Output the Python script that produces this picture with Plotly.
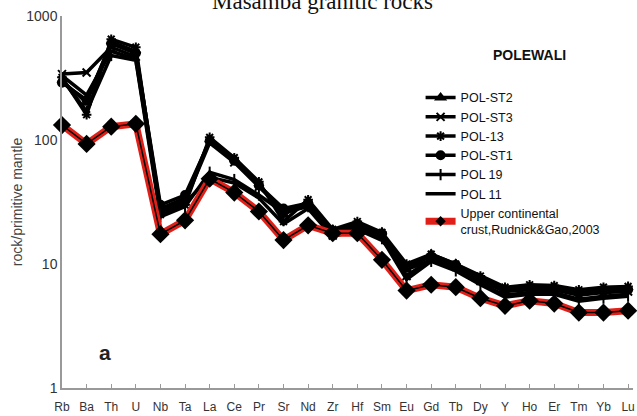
import plotly.graph_objects as go

elements = ["Rb", "Ba", "Th", "U", "Nb", "Ta", "La", "Ce", "Pr", "Sr", "Nd", "Zr",
            "Hf", "Sm", "Eu", "Gd", "Tb", "Dy", "Y", "Ho", "Er", "Tm", "Yb", "Lu"]

pol_st2 = [300, 200, 620, 520, 28, 34, 100, 70, 44, 25, 32, 18, 21, 18, 9, 12, 10, 7.8, 6.3, 6.6, 6.5, 6.0, 6.3, 6.4]
pol_st3 = [340, 350, 560, 470, 27, 32, 95, 66, 42, 27, 30, 17, 20, 17, 8, 11, 9.5, 7.3, 6.0, 6.2, 6.2, 5.6, 5.9, 6.0]
pol_13 = [320, 160, 650, 560, 25, 30, 105, 72, 46, 22, 33, 19, 22, 18, 10, 12, 10, 8, 6.5, 6.8, 6.7, 6.2, 6.5, 6.6]
pol_st1 = [290, 210, 600, 500, 30, 36, 98, 68, 43, 28, 31, 18, 21, 17.5, 9.5, 11.5, 9.8, 7.6, 6.1, 6.4, 6.3, 5.8, 6.0, 6.2]
pol_19 = [310, 170, 480, 440, 24, 29, 55, 48, 36, 26, 29, 17, 20, 16, 7.5, 10.5, 8.8, 6.8, 5.4, 5.7, 5.7, 5.0, 5.3, 5.5]
pol_11 = [330, 230, 520, 450, 26, 31, 50, 45, 34, 21, 28, 16.5, 19, 15.5, 9, 10.8, 9, 7, 5.6, 5.9, 5.9, 5.2, 5.5, 5.7]
ucc = [132, 93, 128, 135, 17.4, 22.5, 48.7, 37.7, 26.5, 15.6, 20.5, 17.7, 17.7, 10.8, 6.1, 6.8, 6.5, 5.3, 4.6, 5.06, 4.8, 4.06, 4.06, 4.2]

series = [
    ("POL-ST2", pol_st2, "triangle-up"),
    ("POL-ST3", pol_st3, "x-thin"),
    ("POL-13", pol_13, "asterisk"),
    ("POL-ST1", pol_st1, "circle"),
    ("POL 19", pol_19, "line-ns"),
    ("POL 11", pol_11, None),
]

xs = list(range(len(elements)))
fig = go.Figure()
for name, vals, sym in series:
    if sym:
        fig.add_trace(go.Scatter(
            x=xs, y=vals, name=name, mode="lines+markers",
            line=dict(color="black", width=3.5),
            marker=dict(symbol=sym, size=8, color="black",
                        line=dict(color="black", width=2)),
            cliponaxis=False))
    else:
        fig.add_trace(go.Scatter(
            x=xs, y=vals, name=name, mode="lines",
            line=dict(color="black", width=3.5), cliponaxis=False))

fig.add_trace(go.Scatter(
    x=xs, y=ucc, name="Upper continental<br>crust,Rudnick&Gao,2003",
    mode="lines+markers", line=dict(color="#e02018", width=7),
    marker=dict(symbol="diamond", size=8, color="black"), cliponaxis=False))
fig.add_trace(go.Scatter(
    x=xs, y=ucc, showlegend=False, mode="lines+markers",
    line=dict(color="black", width=1.5),
    marker=dict(symbol="diamond", size=14, color="black"), cliponaxis=False))

fig.update_layout(
    width=637, height=416,
    margin=dict(l=62, r=2, t=16, b=25),
    paper_bgcolor="white", plot_bgcolor="white",
    font=dict(family="Liberation Sans, Arial", size=13, color="#333"),
    showlegend=True,
    legend=dict(x=0.628, y=0.82, xanchor="left", yanchor="top",
                bgcolor="rgba(0,0,0,0)", font=dict(size=12.5, color="#111"),
                tracegroupgap=0, itemsizing="trace"),
    xaxis=dict(range=[0, 23.2], tickmode="array", tickvals=xs, ticktext=elements,
               showgrid=False, zeroline=False, showline=True, linecolor="#999",
               linewidth=1.5, ticks="inside", ticklen=4, tickcolor="#999",
               ticklabelstandoff=7,
               tickfont=dict(size=12, color="#333")),
    yaxis=dict(type="log", range=[0, 3], tickvals=[1, 10, 100, 1000],
               ticktext=["1", "10", "100", "1000"], showgrid=False, zeroline=False,
               showline=True, linecolor="#999", linewidth=1.5,
               ticks="outside", ticklen=0, tickcolor="rgba(0,0,0,0)",
               tickfont=dict(size=14, color="#333"),
               title=dict(text="rock/primitive mantle", font=dict(size=14, color="#444"),
                          standoff=0)),
    annotations=[
        dict(text="Masamba granitic rocks", xref="paper", yref="paper", x=0.456, y=1,
             yshift=0, xanchor="center", yanchor="bottom", showarrow=False,
             font=dict(family="Liberation Serif, Times New Roman", size=23, color="#111")),
        dict(text="<b>POLEWALI</b>", xref="paper", yref="paper", x=0.818, y=0.895,
             xanchor="center", yanchor="middle", showarrow=False,
             font=dict(size=14, color="#111")),
        dict(text="<b>a</b>", xref="paper", yref="paper", x=0.075, y=0.095,
             xanchor="center", yanchor="middle", showarrow=False,
             font=dict(family="Liberation Sans, Arial", size=21, color="#222")),
    ],
)

fig.write_html("out.html", config={"displayModeBar": False},
               post_script="document.body.style.margin='0px';")
